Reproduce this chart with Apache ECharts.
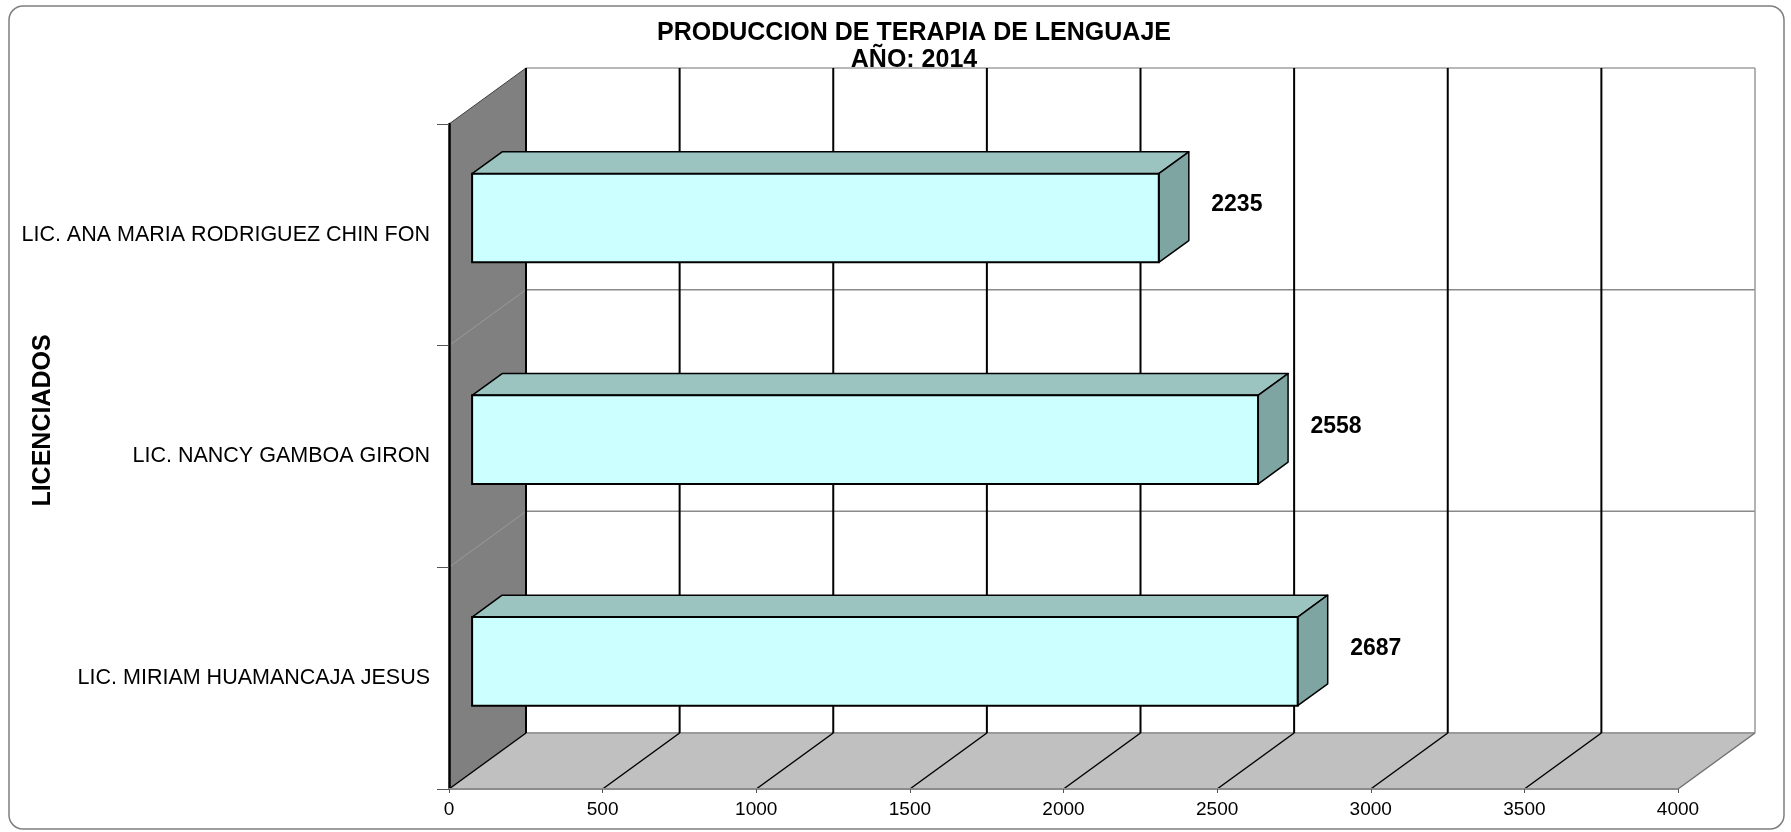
<!DOCTYPE html>
<html>
<head>
<meta charset="utf-8">
<title>Produccion de terapia de lenguaje 2014</title>
<script src="https://cdn.jsdelivr.net/npm/echarts@6/dist/echarts.min.js"></script>
<style>
  html, body { margin: 0; padding: 0; background: #fff; }
  #main { width: 1791px; height: 832px; }
</style>
</head>
<body>
<div id="main"></div>
<script>
// datos del grafico
var licenciados = ['LIC. ANA MARIA RODRIGUEZ CHIN FON', 'LIC. NANCY GAMBOA GIRON', 'LIC. MIRIAM HUAMANCAJA JESUS'];
var produccion = [2235, 2558, 2687];
var ticks = [0, 500, 1000, 1500, 2000, 2500, 3000, 3500, 4000];

var FONT = 'Liberation Sans, Arial, sans-serif';
// profundidad del efecto 3D (px)
var DX = 77, DY = -56;
var F0 = 0.30, F1 = 0.69; // posicion de la barra en la profundidad

var chart = echarts.init(document.getElementById('main'));

function renderScene(params, api) {
  var cs = params.coordSys;
  var L = cs.x, T = cs.y, R = cs.x + cs.width, B = cs.y + cs.height;
  var band = api.size([0, 1])[1];
  var kids = [];
  // pared izquierda
  kids.push({ type: 'polygon', shape: { points: [[L, T], [L + DX, T + DY], [L + DX, B + DY], [L, B]] },
    style: { fill: '#808080' } });
  // piso
  kids.push({ type: 'polygon', shape: { points: [[L, B], [L + DX, B + DY], [R + DX, B + DY], [R, B]] },
    style: { fill: '#c0c0c0' } });
  // lineas entre categorias
  for (var i = 1; i < licenciados.length; i++) {
    var y = T + band * i;
    kids.push({ type: 'line', shape: { x1: L, y1: y, x2: L + DX, y2: y + DY },
      style: { stroke: '#9a9a9a', lineWidth: 1 } });
    kids.push({ type: 'line', shape: { x1: L + DX, y1: y + DY, x2: R + DX, y2: y + DY },
      style: { stroke: '#8a8a8a', lineWidth: 1.5 } });
  }
  // borde superior
  kids.push({ type: 'line', shape: { x1: L, y1: T, x2: L + DX, y2: T + DY },
    style: { stroke: '#404040', lineWidth: 1 } });
  kids.push({ type: 'line', shape: { x1: L + DX, y1: T + DY, x2: R + DX, y2: T + DY },
    style: { stroke: '#a0a0a0', lineWidth: 1.5 } });
  // borde trasero del piso
  kids.push({ type: 'line', shape: { x1: L + DX, y1: B + DY, x2: R + DX, y2: B + DY },
    style: { stroke: '#9a9a9a', lineWidth: 2 } });
  // lineas de division
  ticks.forEach(function (t, k) {
    var x = api.coord([t, 0])[0];
    var last = k === ticks.length - 1;
    kids.push({ type: 'line', shape: { x1: x + DX, y1: T + DY, x2: x + DX, y2: B + DY },
      style: { stroke: last ? '#9a9a9a' : '#000', lineWidth: last ? 1.5 : 2 } });
    kids.push({ type: 'line', shape: { x1: x, y1: B, x2: x + DX, y2: B + DY },
      style: { stroke: last ? '#707070' : '#000', lineWidth: 1.5 } });
  });
  return { type: 'group', children: kids };
}

function renderBar(params, api) {
  var v = api.value(0), idx = api.value(1);
  var p0 = api.coord([0, idx]);
  var p1 = api.coord([v, idx]);
  var h = api.size([0, 1])[1] * 0.4;
  var x0 = p0[0] + DX * F0, x1 = p1[0] + DX * F0;
  var yT = p0[1] - h / 2 + DY * F0, yB = yT + h;
  var dx = DX * (F1 - F0), dy = DY * (F1 - F0);
  var edge = { stroke: '#000', lineWidth: 1.5, lineJoin: 'round' };
  return {
    type: 'group',
    children: [
      { type: 'polygon', shape: { points: [[x0, yT], [x0 + dx, yT + dy], [x1 + dx, yT + dy], [x1, yT]] },
        style: Object.assign({ fill: '#9bc4c1' }, edge) },
      { type: 'polygon', shape: { points: [[x1, yT], [x1 + dx, yT + dy], [x1 + dx, yB + dy], [x1, yB]] },
        style: Object.assign({ fill: '#7fa5a2' }, edge) },
      { type: 'rect', shape: { x: x0, y: yT, width: x1 - x0, height: h },
        style: { fill: '#ccffff', stroke: '#000', lineWidth: 2 } },
      { type: 'text', x: x1 + dx + 48, y: yT + h / 2 - 13,
        style: { text: String(v), fill: '#000', font: 'bold 23px ' + FONT, align: 'center', verticalAlign: 'middle' } }
    ]
  };
}

var option = {
  backgroundColor: '#fff',
  animation: false,
  title: {
    text: 'PRODUCCION DE TERAPIA DE LENGUAJE\nAÑO: 2014',
    left: 909,
    top: 15,
    textAlign: 'center',
    textStyle: { fontFamily: FONT, fontSize: 25, fontWeight: 'bold', color: '#000', lineHeight: 27 }
  },
  graphic: [{
    type: 'rect', z: -10,
    shape: { x: 9, y: 6, width: 1775, height: 823, r: 14 },
    style: { fill: 'none', stroke: '#7f7f7f', lineWidth: 1.5 }
  }],
  grid: { left: 449, top: 124, width: 1229, height: 665, outerBoundsMode: 'none', containLabel: false },
  xAxis: {
    type: 'value', min: 0, max: 4000, interval: 500, z: 5,
    axisLine: { show: true, lineStyle: { color: '#8c8c8c', width: 2 } },
    axisTick: { show: true, length: 4, lineStyle: { color: '#555' } },
    splitLine: { show: false },
    axisLabel: { fontFamily: FONT, fontSize: 19, color: '#000', margin: 11,
      formatter: function (v) { return String(v); } }
  },
  yAxis: {
    type: 'category', data: licenciados, inverse: true, z: 5,
    name: 'LICENCIADOS', nameLocation: 'middle', nameRotate: 90, nameGap: 393, nameMoveOverlap: false,
    nameTextStyle: { fontFamily: FONT, fontSize: 25, fontWeight: 'bold', color: '#000', padding: [0, 0, 0, 72] },
    axisLine: { show: true, lineStyle: { color: '#000', width: 2.5 } },
    axisTick: { show: true, length: 12, lineStyle: { color: '#555' } },
    splitLine: { show: false },
    axisLabel: { fontFamily: FONT, fontSize: 21.5, color: '#000', margin: 19 }
  },
  series: [{
    type: 'custom', z: 1, clip: false, silent: true,
    renderItem: renderScene,
    data: [[0, 0]]
  }, {
    type: 'custom', z: 2, clip: false,
    renderItem: renderBar,
    encode: { x: 0, y: 1 },
    data: produccion.map(function (v, i) { return [v, i]; })
  }]
};

chart.setOption(option);
</script>
</body>
</html>
